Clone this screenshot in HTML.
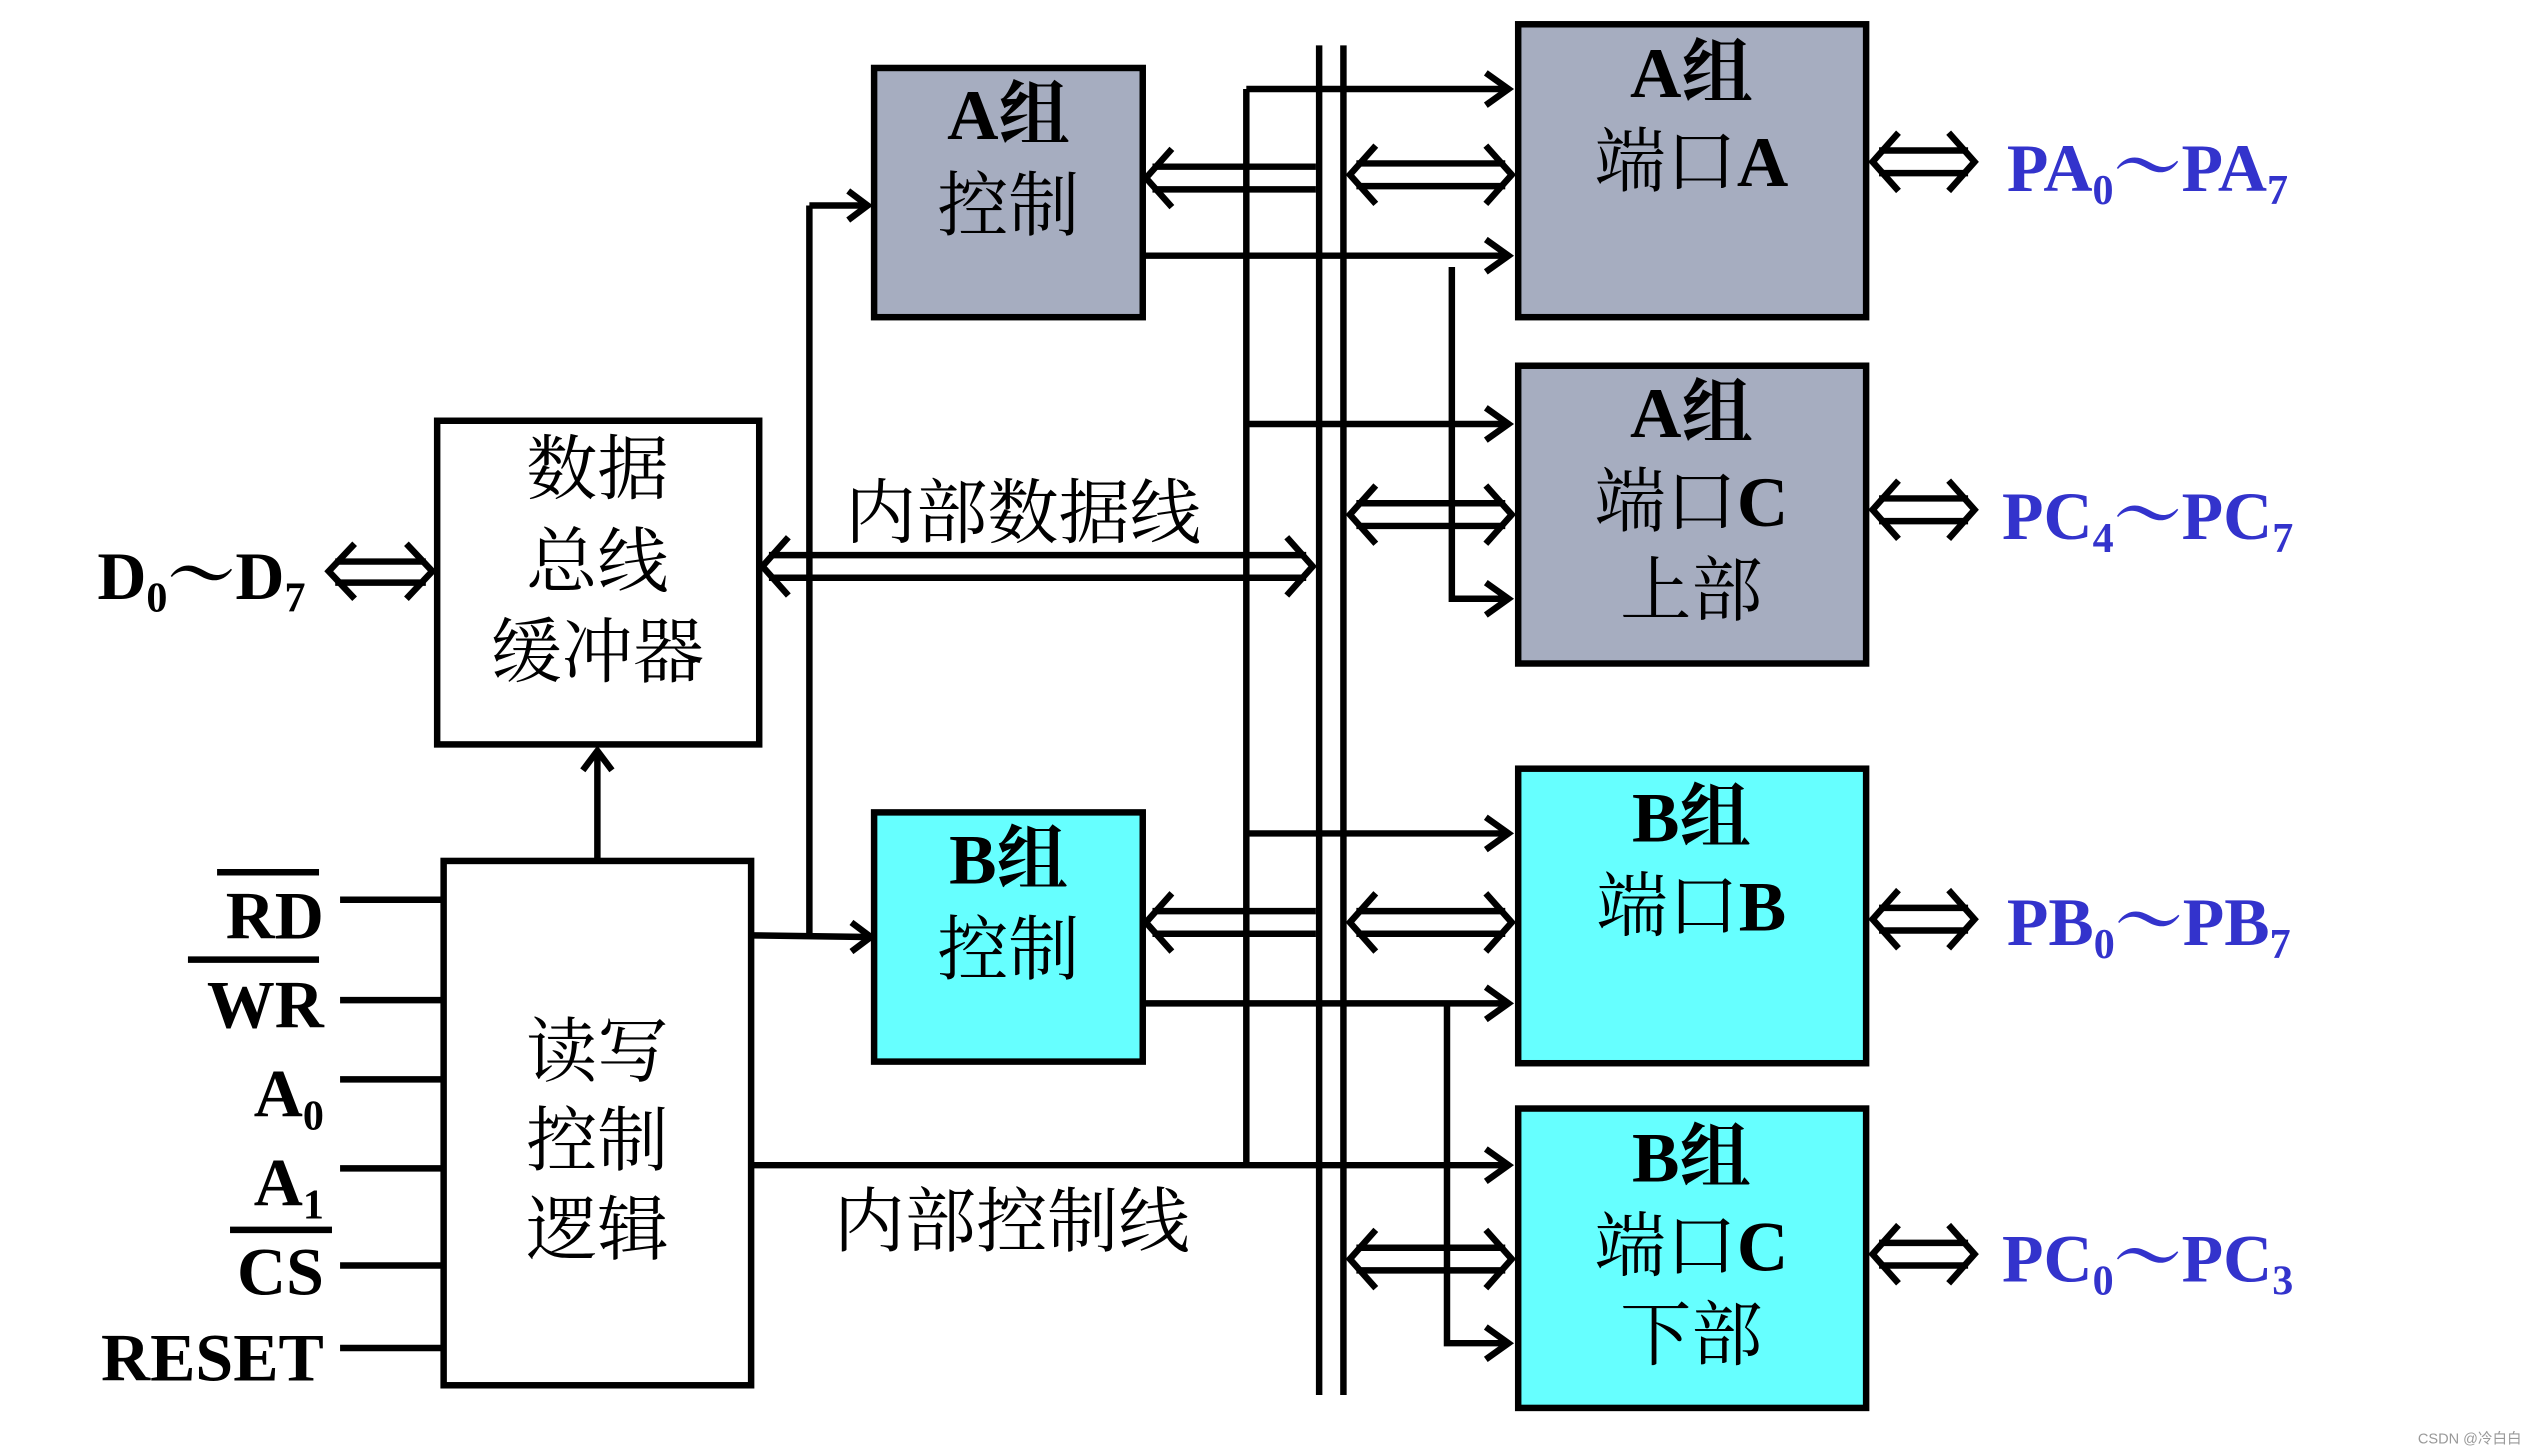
<!DOCTYPE html>
<html><head><meta charset="utf-8"><style>html,body{margin:0;padding:0;background:#fff}svg{display:block}</style></head><body>
<svg width="2525" height="1450" viewBox="0 0 1560 896" xmlns="http://www.w3.org/2000/svg">
<g fill="none" stroke="#000" stroke-width="4">
<rect x="540" y="42" width="166" height="154" fill="#a6adc0"/>
<rect x="938" y="15" width="215" height="181" fill="#a6adc0"/>
<rect x="938" y="226" width="215" height="184" fill="#a6adc0"/>
<rect x="540" y="502" width="166" height="154" fill="#66ffff"/>
<rect x="938" y="475" width="215" height="182" fill="#66ffff"/>
<rect x="938" y="685" width="215" height="185" fill="#66ffff"/>
<rect x="270" y="260" width="199" height="200" fill="#fff"/>
<rect x="274" y="532" width="190" height="324" fill="#fff"/>
<line x1="815" y1="28" x2="815" y2="862"/>
<line x1="830" y1="28" x2="830" y2="862"/>
<line x1="770" y1="55" x2="770" y2="720"/>
<line x1="770" y1="55" x2="930" y2="55"/><polyline points="918,45 932,55 918,65"/>
<line x1="770" y1="262" x2="930" y2="262"/><polyline points="918,252 932,262 918,272"/>
<line x1="770" y1="515" x2="930" y2="515"/><polyline points="918,505 932,515 918,525"/>
<line x1="464" y1="720" x2="930" y2="720"/><polyline points="918,710 932,720 918,730"/>
<line x1="706" y1="158" x2="930" y2="158"/><polyline points="918,148 932,158 918,168"/>
<polyline points="897,165 897,370 930,370"/><polyline points="918,360 932,370 918,380"/>
<line x1="706" y1="620" x2="930" y2="620"/><polyline points="918,610 932,620 918,630"/>
<polyline points="894,620 894,830 930,830"/><polyline points="918,820 932,830 918,840"/>
<line x1="712" y1="103" x2="813" y2="103"/><line x1="712" y1="117" x2="813" y2="117"/>
<polyline points="724,92 708,110 724,128"/>
<line x1="712" y1="563" x2="813" y2="563"/><line x1="712" y1="577" x2="813" y2="577"/>
<polyline points="724,552 708,570 724,588"/>
<g id="da">
<line x1="838" y1="101" x2="930" y2="101"/><line x1="838" y1="115" x2="930" y2="115"/>
<polyline points="850,90 834,108 850,126"/><polyline points="918,90 934,108 918,126"/>
</g>
<use href="#da" y="210"/>
<use href="#da" y="462"/>
<use href="#da" y="670"/>
<g id="rd">
<line x1="1161" y1="93" x2="1216" y2="93"/><line x1="1161" y1="107" x2="1216" y2="107"/>
<polyline points="1173,82 1157,100 1173,118"/><polyline points="1204,82 1220,100 1204,118"/>
</g>
<use href="#rd" y="215"/>
<use href="#rd" y="468"/>
<use href="#rd" y="675"/>
<line x1="207" y1="347" x2="263" y2="347"/><line x1="207" y1="360" x2="263" y2="360"/>
<polyline points="219,336 203,353 219,370"/><polyline points="251,336 267,353 251,370"/>
<line x1="475" y1="343" x2="807" y2="343"/><line x1="475" y1="357" x2="807" y2="357"/>
<polyline points="487,332 471,350 487,368"/><polyline points="795,332 811,350 795,368"/>
<line x1="500" y1="127" x2="500" y2="578"/>
<line x1="500" y1="127" x2="534" y2="127"/><polyline points="524,118 536,127 524,136"/>
<line x1="464" y1="578" x2="536" y2="579"/><polyline points="526,570 538,579 526,588"/>
<line x1="369" y1="532" x2="369" y2="466"/><polyline points="360,476 369,464 378,476"/>
<line x1="210" y1="556" x2="274" y2="556"/>
<line x1="210" y1="618" x2="274" y2="618"/>
<line x1="210" y1="667" x2="274" y2="667"/>
<line x1="210" y1="722" x2="274" y2="722"/>
<line x1="210" y1="782" x2="274" y2="782"/>
<line x1="210" y1="833" x2="274" y2="833"/>
<line x1="134" y1="539" x2="197" y2="539"/>
<line x1="116" y1="593" x2="197" y2="593"/>
<line x1="142" y1="760" x2="205" y2="760"/>
</g>
<g font-family="'Liberation Serif','Noto Serif CJK SC',serif" font-size="44" text-anchor="middle" fill="#000">
<text x="623" y="86" font-weight="bold">A组</text><text x="623" y="142">控制</text>
<text x="623" y="546" font-weight="bold">B组</text><text x="623" y="602">控制</text>
<text x="1045" y="60" font-weight="bold">A组</text><text x="1045" y="115">端口<tspan font-weight="bold">A</tspan></text>
<text x="1045" y="270" font-weight="bold">A组</text><text x="1045" y="325">端口<tspan font-weight="bold">C</tspan></text><text x="1045" y="380">上部</text>
<text x="1045" y="520" font-weight="bold">B组</text><text x="1045" y="575">端口<tspan font-weight="bold">B</tspan></text>
<text x="1045" y="730" font-weight="bold">B组</text><text x="1045" y="785">端口<tspan font-weight="bold">C</tspan></text><text x="1045" y="840">下部</text>
<text x="369" y="305">数据</text><text x="369" y="362">总线</text><text x="369" y="418">缓冲器</text>
<text x="369" y="665">读写</text><text x="369" y="720">控制</text><text x="369" y="775">逻辑</text>
<text x="632" y="332">内部数据线</text>
<text x="625" y="770">内部控制线</text>
</g>
<g font-family="'Liberation Serif','Noto Serif CJK SC',serif" font-size="42" font-weight="bold" text-anchor="end" fill="#000">
<text x="200" y="580">RD</text><text x="200" y="635">WR</text>
<text x="200" y="690">A<tspan font-size="26" dy="8">0</tspan></text>
<text x="200" y="745">A<tspan font-size="26" dy="8">1</tspan></text>
<text x="200" y="800">CS</text><text x="200" y="853">RESET</text>
</g>
<g font-family="'Liberation Serif','Noto Serif CJK SC',serif" font-size="42" font-weight="bold">
<text x="60" y="370" fill="#000">D<tspan font-size="26" dy="8">0</tspan><tspan dy="-8">～D</tspan><tspan font-size="26" dy="8">7</tspan></text>
<g fill="#3333cc">
<text x="1240" y="118">PA<tspan font-size="26" dy="8">0</tspan><tspan dy="-8">～PA</tspan><tspan font-size="26" dy="8">7</tspan></text>
<text x="1237" y="333">PC<tspan font-size="26" dy="8">4</tspan><tspan dy="-8">～PC</tspan><tspan font-size="26" dy="8">7</tspan></text>
<text x="1240" y="584">PB<tspan font-size="26" dy="8">0</tspan><tspan dy="-8">～PB</tspan><tspan font-size="26" dy="8">7</tspan></text>
<text x="1237" y="792">PC<tspan font-size="26" dy="8">0</tspan><tspan dy="-8">～PC</tspan><tspan font-size="26" dy="8">3</tspan></text>
</g>
</g>
<text x="1558" y="892" font-family="'Liberation Sans','Noto Sans CJK SC',sans-serif" font-size="9" fill="#999" text-anchor="end">CSDN @冷白白</text>
</svg>
</body></html>
